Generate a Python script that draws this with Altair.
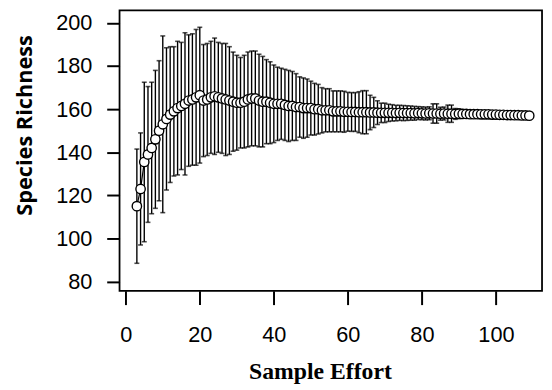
import altair as alt
import pandas as pd

# Sample effort (x) values
effort = list(range(3, 110))

# Mean species richness
richness = [
    115, 123, 135.5, 139, 142, 146, 150, 153, 155.5, 157.5,
    159, 160.5, 161.5, 162.5, 164, 164.5, 165.5, 166.5, 164, 164.5,
    165.5, 166, 165.5, 165, 164.5, 164, 163.5, 163, 163, 163.5,
    164.5, 165, 165, 164, 163.5, 163.5, 163, 162.5, 162.5, 162.5,
    162, 161.5, 161.5, 161, 161, 160.5, 160.5, 160.5, 160, 160,
    159.5, 159.5, 159.5, 159, 159, 159, 158.8, 158.8, 158.7, 158.7,
    158.6, 158.6, 158.6, 158.5, 158.5, 158.4, 158.3, 158.3,
    158.3, 158.3, 158.2, 158.3, 158.2, 158.2, 158.2, 158.1, 158.2, 158.1,
    158.0, 158.1, 158.0, 158.0, 157.9, 158.0, 157.9, 157.9, 157.8, 157.9,
    157.8, 157.8, 157.7, 157.7, 157.7, 157.6, 157.6, 157.6, 157.5, 157.5,
    157.4, 157.4, 157.3, 157.3, 157.2, 157.2, 157.1, 157.1, 157.0,
]

# Half-length of the error bars
spread = [
    26.5, 26, 37, 31.5, 30.5, 32, 32.5, 41, 33, 31.5,
    30, 31, 29.5, 33, 30.5, 30.5, 31.5, 31.5, 26, 26,
    26, 27, 25.5, 25.5, 26, 25, 23, 22, 21, 21.5,
    22, 22, 22, 21.5, 21, 19.5, 19, 18, 17, 16.5,
    16.5, 16.5, 16, 15.5, 14, 14, 13.5, 12.5, 12, 11.5,
    10.5, 10, 10, 9.5, 9.5, 9.5, 9.5, 9, 9, 9,
    9.5, 10, 10, 8, 7, 5.5, 4.5, 4.5,
    4, 3.8, 3.6, 3.5, 3.5, 3.4, 3.3, 3.2, 3, 3,
    3, 3, 4.5, 4.5, 3, 3, 4, 4, 2.5, 2.3,
    2, 1.6, 1.5, 1.4, 1.3, 1.2, 1.1, 1.0, 1.0, 0.9,
    0.8, 0.8, 0.7, 0.7, 0.6, 0.6, 0.5, 0.5, 0.5,
]

x_ticks = [0, 20, 40, 60, 80, 100]
y_ticks = [80, 100, 120, 140, 160, 180, 200]

df = pd.DataFrame({"effort": effort, "richness": richness, "sd": spread})

xscale = alt.Scale(domain=[-1.68, 112.45], nice=False, zero=False)
yscale = alt.Scale(domain=[75.74, 205.82], nice=False, zero=False)

xaxis = alt.Axis(
    values=x_ticks, format="d", grid=False, domain=False,
    labelFont="Liberation Sans", labelFontSize=22, labelColor="black",
    labelPadding=20.5, labelFlush=False,
    tickSize=14, tickWidth=2, tickColor="black",
    title="Sample Effort", titleFont="Liberation Serif", titleFontWeight="bold",
    titleFontSize=24, titleColor="black", titleX=203, titleY=88.5,
    titleAlign="center", titleBaseline="alphabetic",
)
yaxis = alt.Axis(
    values=y_ticks, format="d", grid=False, domain=False,
    labelFont="Liberation Sans", labelFontSize=22, labelColor="black",
    labelPadding=15, labelFlush=False,
    tickSize=13, tickWidth=2, tickColor="black",
    title="Species Richness", titleFont="Open Sans", titleFontWeight="bold",
    titleFontSize=22, titleColor="black", titleX=-96.5, titleY=116,
    titleAlign="center", titleBaseline="middle", titleAngle=270,
)

base = alt.Chart(df).transform_calculate(
    lo="datum.richness - datum.sd", hi="datum.richness + datum.sd"
)

bars = base.mark_rule(color="black", strokeWidth=1.4).encode(
    x=alt.X("effort:Q", scale=xscale, axis=xaxis),
    y=alt.Y("lo:Q", scale=yscale, axis=yaxis),
    y2="hi:Q",
)
cap_hi = base.mark_tick(color="black", orient="horizontal", size=5, thickness=1.6).encode(
    x=alt.X("effort:Q", scale=xscale), y=alt.Y("hi:Q", scale=yscale)
)
cap_lo = base.mark_tick(color="black", orient="horizontal", size=5, thickness=1.6).encode(
    x=alt.X("effort:Q", scale=xscale), y=alt.Y("lo:Q", scale=yscale)
)
line = base.mark_line(color="black", strokeWidth=1.2).encode(
    x=alt.X("effort:Q", scale=xscale), y=alt.Y("richness:Q", scale=yscale)
)
pts = base.mark_point(
    shape="circle", filled=True, fill="white", stroke="black", strokeWidth=1.4,
    size=90, opacity=1,
).encode(
    x=alt.X("effort:Q", scale=xscale), y=alt.Y("richness:Q", scale=yscale)
)

chart = alt.layer(bars, cap_hi, cap_lo, line, pts).properties(
    width=428, height=284,
    autosize=alt.AutoSizeParams(type="none"),
    padding={"left": 113, "top": 0, "right": 2, "bottom": 95},
    background="white",
).configure_view(stroke="black", strokeWidth=1.8)

chart.save("out.html", embed_options={"renderer": "svg", "actions": False})
